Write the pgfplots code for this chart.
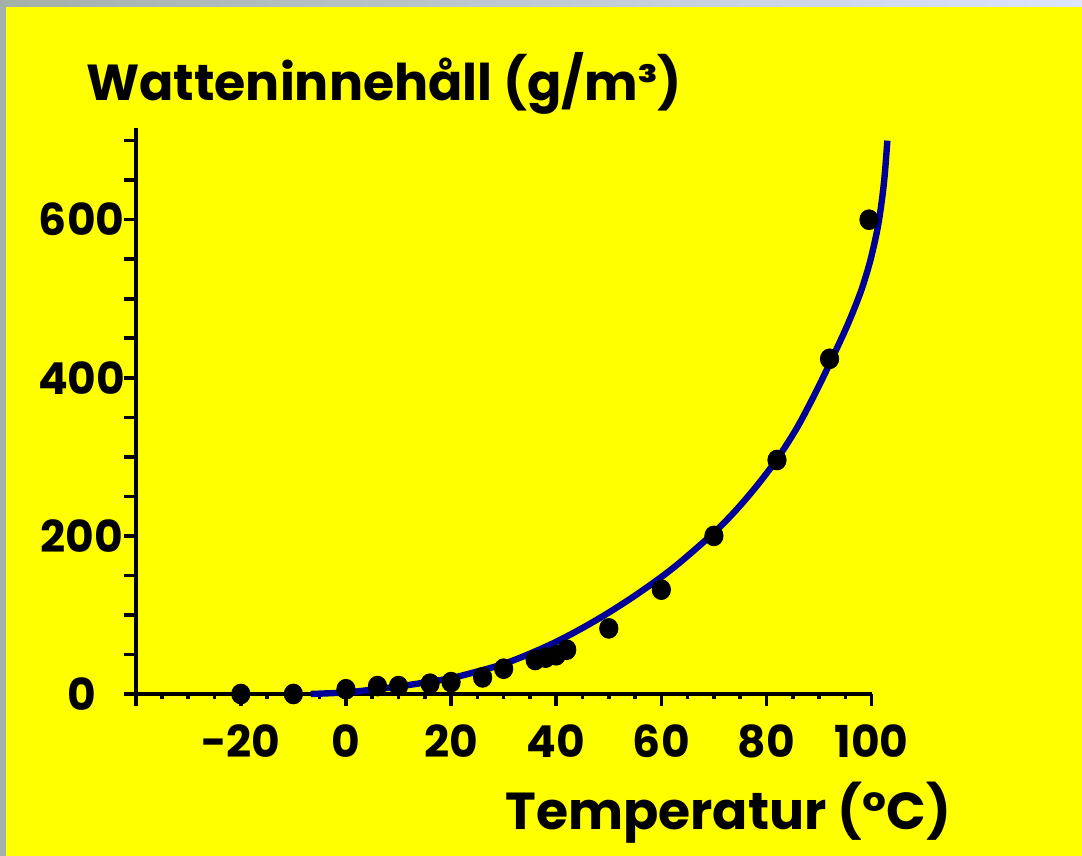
\documentclass[border=0pt]{standalone}
\usepackage{pgfplots}
\pgfplotsset{compat=1.18}
\usepackage{fontspec}
\setmainfont{Poppins}
\definecolor{bgyellow}{RGB}{255,255,0}
\definecolor{curveblue}{RGB}{0,0,153}
\definecolor{edgegray}{RGB}{163,176,168}
\definecolor{edgeblue}{RGB}{220,228,255}
\begin{document}
\begin{tikzpicture}
\fill[edgegray] (0,0) rectangle (541pt,428pt);
\shade[left color=edgegray, right color=edgeblue] (0,424.5pt) rectangle (541pt,428pt);
\fill[bgyellow] (3pt,0) rectangle (541pt,424.5pt);
\begin{axis}[
  at={(67.85pt,81pt)}, anchor=south west, scale only axis,
  width=367.95pt, height=283pt,
  xmin=-40, xmax=100, ymin=0, ymax=716,
  axis lines=left, axis line style={-, line width=2pt, black},
  clip=false,
  xtick={-40,-20,...,100}, xticklabels={,-20,0,20,40,60,80,100},
  minor x tick num=3,
  ytick={0,50,...,700}, yticklabels={0,,,,200,,,,400,,,,600,,},
  tick align=outside, major tick length=6pt, minor tick length=2.5pt,
  tick style={black, line width=1.8pt},
  ticklabel style={font=\fontsize{22}{26}\selectfont\bfseries},
  xticklabel style={yshift=-6pt},
  yticklabel style={anchor=center, xshift=-21pt},
  /pgf/number format/assume math mode=true,
  xlabel={Temperatur (°C)},
  xlabel style={at={(axis description cs:0.805,-0.240)}, anchor=base, font=\fontsize{26}{30}\selectfont\bfseries},
  ylabel={Watteninnehåll (g/m³)},
  ylabel style={rotate=-90, at={(axis description cs:-0.077,1.049)}, anchor=base west, font=\fontsize{25.3}{30}\selectfont\bfseries},
]
\addplot[only marks, mark=*, mark size=4.6pt, mark options={fill=black, draw=black, yscale=1.08}] coordinates {
(-20,0) (-10,0) (0,6) (6,10) (10,10) (16,13) (20,15) (26,21) (30,32) (36,43) (38,46) (40,49) (42,56) (50,83) (60,132) (70,200) (82,296) (92,424) (99.5,600)
};
\addplot[curveblue, line width=3.2pt, smooth, tension=0.5] coordinates {
(-6.7,0) (0,2) (5,5.5) (10,9.5) (15,14.5) (20,20) (25,28.5) (30,38) (35,51) (40,66) (45,83.5) (50,103) (55,124.5) (60,148) (64,169) (70,204) (74,231) (78,262) (82,297) (86,339) (90,390) (94,446) (96,476) (98,510) (99.5,542) (100.5,569) (101.3,595) (102,627) (102.5,657) (103,700)
};
\end{axis}
\pgfresetboundingbox
\useasboundingbox (0,0) rectangle (541pt,428pt);
\end{tikzpicture}
\end{document}
